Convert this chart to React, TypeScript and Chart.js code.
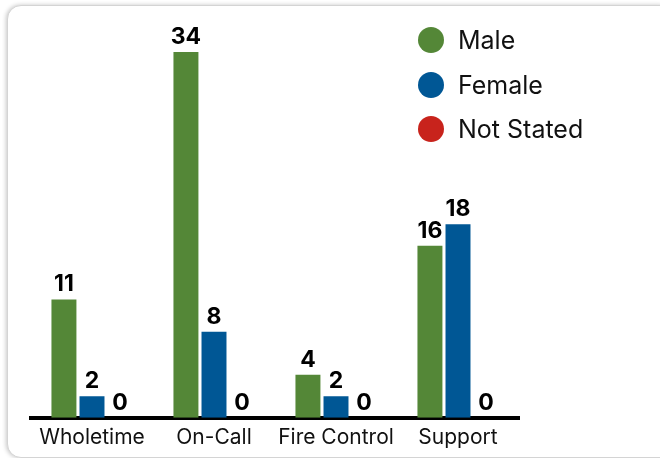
import React, { useEffect, useRef } from "react";
import { Chart, registerables } from "chart.js";

Chart.register(...registerables);

const categories = ["Wholetime", "On-Call", "Fire Control", "Support"];
const seriesNames = ["Male", "Female", "Not Stated"];
const maleValues = [11, 34, 4, 16];
const femaleValues = [2, 8, 2, 18];
const notStatedValues = [0, 0, 0, 0];
const seriesColors = ["#548737", "#005795", "#C8231C"];

const FONT = "Inter, 'Noto Sans', sans-serif";

const valueLabels = {
  id: "valueLabels",
  afterDatasetsDraw(chart: any) {
    const ctx = chart.ctx;
    ctx.save();
    ctx.font = `700 23px ${FONT}`;
    ctx.fillStyle = "#000";
    ctx.textAlign = "center";
    ctx.textBaseline = "alphabetic";
    chart.data.datasets.forEach((ds: any, i: number) => {
      const meta = chart.getDatasetMeta(i);
      meta.data.forEach((el: any, j: number) => {
        ctx.fillText(String(ds.data[j]), el.x, el.y - 8);
      });
    });
    ctx.restore();
  },
};

export default function App() {
  const ref = useRef<HTMLCanvasElement>(null);
  useEffect(() => {
    if (!ref.current) return;
    const chart = new Chart(ref.current, {
      type: "bar",
      data: {
        labels: categories,
        datasets: [maleValues, femaleValues, notStatedValues].map((d, i) => ({
          label: seriesNames[i],
          data: d,
          backgroundColor: seriesColors[i],
          categoryPercentage: 0.69,
          barPercentage: 0.89,
        })),
      },
      options: {
        animation: false,
        responsive: false,
        devicePixelRatio: 1,
        layout: { padding: { left: 31, right: 141, top: 52, bottom: 1 } },
        plugins: { legend: { display: false }, tooltip: { enabled: false } },
        scales: {
          x: {
            grid: { display: false, drawTicks: false },
            border: { display: true, color: "#000", width: 4 },
            ticks: { color: "#111", font: { family: FONT, size: 21 }, padding: 7 },
          },
          y: { display: false, min: 0, max: 34 },
        },
      },
      plugins: [valueLabels],
    });
    return () => chart.destroy();
  }, []);

  return (
    <div style={{ position: "fixed", inset: 0, overflow: "hidden", background: "#fff" }}>
      <div
        style={{
          position: "absolute",
          left: 7,
          top: 5,
          width: 665,
          height: 451,
          border: "1px solid #d4d4d4",
          borderRadius: 14,
          boxShadow: "-1px 0 4px rgba(0,0,0,0.22)",
          background: "#fff",
        }}
      />
      <canvas ref={ref} width={660} height={458} style={{ position: "absolute", left: 0, top: 0 }} />
      <div style={{ position: "absolute", left: 418, top: 27, fontFamily: FONT }}>
        {seriesNames.map((n, i) => (
          <div key={n} style={{ display: "flex", alignItems: "center", height: 26, marginBottom: 18.5 }}>
            <span
              style={{
                width: 26,
                height: 26,
                borderRadius: "50%",
                background: seriesColors[i],
                display: "inline-block",
                marginRight: 14,
              }}
            />
            <span style={{ fontSize: 25, color: "#111" }}>{n}</span>
          </div>
        ))}
      </div>
    </div>
  );
}
